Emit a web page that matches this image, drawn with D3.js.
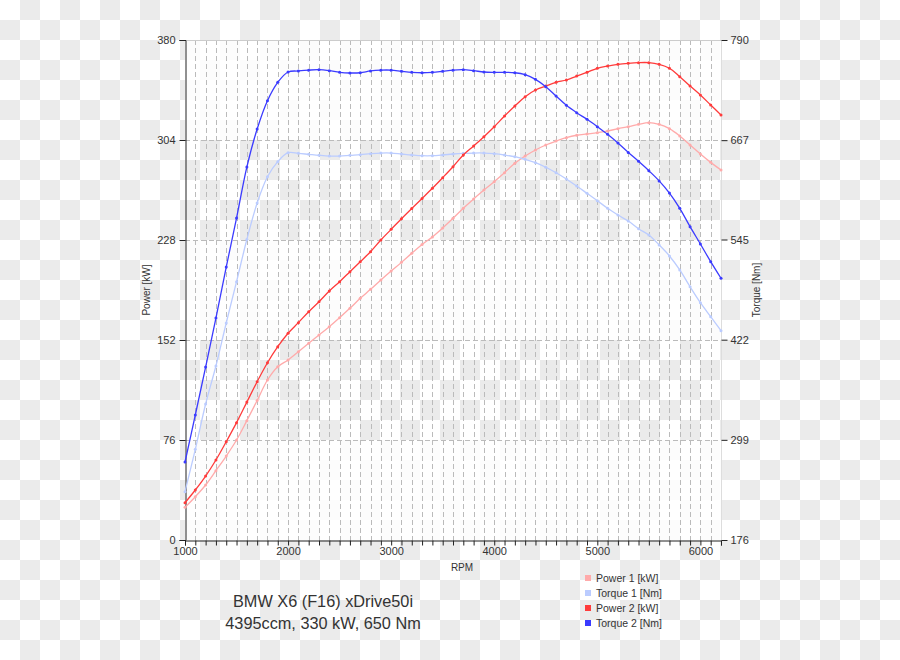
<!DOCTYPE html>
<html><head><meta charset="utf-8">
<script src="https://cdn.jsdelivr.net/npm/d3@7"></script>
<style>body{margin:0;background:#fff}svg{display:block}text{font-family:"Liberation Sans",Arial,sans-serif;fill:#333}</style>
</head><body><svg id="c" width="900" height="660"></svg>
<script>
const rpm = d3.range(1000, 6201, 100);
const power1 = [24.8,32.9,41.8,52.7,63.8,76,90.7,106,121.6,131.7,136.8,143.1,149.5,155.8,162.1,169,176.1,183.7,190.5,197.6,204.4,211,217.9,224.6,230.3,237.1,244.5,252.1,259.2,266,272.3,279.2,286.3,291.8,296.4,300.2,303.2,305.8,307.6,308.6,309.6,310.8,312.6,314.1,315.9,317.2,315.9,312.6,307,300.2,293.4,287,281.2];
const torque1 = [235.3,287.4,343,389.7,442.5,493.2,545,589.8,622,640.6,651.6,650.8,649.6,648.4,647.5,647.5,648.4,649.2,650.4,651.2,651.2,650,648.8,647.9,647.9,648.8,650,650.8,651.2,651.2,650.4,648.8,646.7,643.5,639.3,633.7,627,619.3,610.7,601.7,592.7,583.3,575.1,567.7,558.3,550.5,538.3,524.8,507.6,487,467.4,450.2,433];
const power2 = [28.3,38,48.6,60.8,74.7,89.2,104.8,120.3,134.7,146.9,157.1,165.2,173.5,181.1,189.2,196.3,203.9,211.5,219.1,228,236.1,244.2,252,259.6,267.3,275.4,283.7,292.6,299.4,306.5,314.1,322.2,329.8,336.9,342,345,347.8,349.6,352.6,355.4,358.5,360.2,361.5,362.3,362.8,362.8,361.5,358.5,352.1,345,338.2,330.6,323];
const torque2 = [271.8,329.5,388.4,448.6,511.2,571.4,634,680.7,715.5,738,750.7,752,753,753.5,752.3,750.3,749.5,749.8,752,753,753,751.6,750.3,749.8,750.3,751.6,753,753.5,752.3,750.7,750.3,750.3,749.8,747.4,741.7,732.7,721.2,709.8,700.7,692.6,683.6,674.2,663.5,652,641,629.5,617,602,583.3,560.8,539.5,517.8,497.4];
const powerTicks = [0,76,152,228,304,380];
const torqueTicks = [176,299,422,545,667,790];
const rpmTicks = [1000,2000,3000,4000,5000,6000];
const series = [
  {name:"Power 1 [kW]", vals:power1, axis:"p", color:"#ffaaaa"},
  {name:"Torque 1 [Nm]", vals:torque1, axis:"t", color:"#bbccff"},
  {name:"Power 2 [kW]", vals:power2, axis:"p", color:"#ff3b3b"},
  {name:"Torque 2 [Nm]", vals:torque2, axis:"t", color:"#3b3bff"}
];
const titleLines = ["BMW X6 (F16) xDrive50i","4395ccm, 330 kW, 650 Nm"];

const svg = d3.select("#c");
const L=185,R=721,T=40,B=540;
const pat = svg.append("defs").append("pattern").attr("id","chk").attr("width",40).attr("height",40).attr("patternUnits","userSpaceOnUse");
pat.append("rect").attr("width",40).attr("height",40).attr("fill","#fff");
pat.append("rect").attr("x",20).attr("y",0).attr("width",20).attr("height",20).attr("fill","#ebebeb");
pat.append("rect").attr("x",0).attr("y",20).attr("width",20).attr("height",20).attr("fill","#ebebeb");
svg.append("rect").attr("width",900).attr("height",660).attr("fill","url(#chk)");

const x = d3.scaleLinear().domain([1000,6200]).range([L,R]);
const yP = d3.scaleLinear().domain([0,380]).range([B,T]);
const yT = d3.scaleLinear().domain([176,790]).range([B,T]);

for(let i=0;i<powerTicks.length-1;i++){
  if(i%2===0) svg.append("rect").attr("x",L).attr("y",yP(powerTicks[i+1])).attr("width",R-L).attr("height",yP(powerTicks[i])-yP(powerTicks[i+1])).attr("fill","#fff").attr("opacity",0.85);
}
const g = svg.append("g").attr("stroke","#bbb").attr("stroke-dasharray","5,3").attr("stroke-width",1);
d3.range(1100,6200,100).forEach(r=>g.append("line").attr("x1",Math.round(x(r))+0.5).attr("x2",Math.round(x(r))+0.5).attr("y1",T).attr("y2",B));
powerTicks.slice(1,-1).forEach(p=>g.append("line").attr("x1",L).attr("x2",R).attr("y1",Math.round(yP(p))+0.5).attr("y2",Math.round(yP(p))+0.5));
svg.append("line").attr("x1",L).attr("x2",R).attr("y1",T+0.5).attr("y2",T+0.5).attr("stroke","#ccc");
svg.append("line").attr("x1",R+0.5).attr("x2",R+0.5).attr("y1",T).attr("y2",B).attr("stroke","#ddd");

const ax = d3.axisBottom(x).tickValues(d3.range(1000,6201,100)).tickSize(5).tickFormat(d=>rpmTicks.includes(d)?d:"");
const gx = svg.append("g").attr("transform",`translate(0,${B+0.5})`).call(ax);
const ayl = svg.append("g").attr("transform",`translate(${L+0.5},0)`).call(d3.axisLeft(yP).tickValues(powerTicks).tickSize(6).tickPadding(4));
const ayr = svg.append("g").attr("transform",`translate(${R+0.5},0)`).call(d3.axisRight(yT).tickValues(torqueTicks).tickSize(6).tickPadding(3));
[gx,ayl,ayr].forEach(a=>{a.select(".domain").attr("stroke","#222");a.selectAll(".tick line").attr("stroke","#222");a.selectAll("text").attr("font-size",11).attr("fill","#333").attr("font-family","Liberation Sans, Arial, sans-serif");});
ayr.select(".domain").attr("stroke","none");
gx.selectAll("text").attr("dy","0.9em").attr("y",5);

svg.append("text").attr("x",462).attr("y",571).attr("text-anchor","middle").attr("font-size",10).text("RPM");
svg.append("text").attr("transform","translate(150,290) rotate(-90)").attr("text-anchor","middle").attr("font-size",10).text("Power [kW]");
svg.append("text").attr("transform","translate(760,290) rotate(-90)").attr("text-anchor","middle").attr("font-size",10).text("Torque [Nm]");

series.forEach(s=>{
  const y = s.axis==="p"?yP:yT;
  const pts = rpm.map((r,i)=>[x(r),y(s.vals[i])]);
  svg.append("path").attr("d",d3.line().curve(d3.curveCatmullRom.alpha(0.5))(pts)).attr("fill","none").attr("stroke",s.color).attr("stroke-width",1.3);
  svg.append("g").selectAll("circle").data(pts).join("circle").attr("cx",d=>d[0]).attr("cy",d=>d[1]).attr("r",1.5).attr("fill",s.color);
});

const lg = svg.append("g");
series.forEach((s,i)=>{
  lg.append("rect").attr("x",585).attr("y",575+i*15).attr("width",6).attr("height",6).attr("fill",s.color);
  lg.append("text").attr("x",596).attr("y",582+i*15).attr("font-size",10.5).text(s.name);
});
titleLines.forEach((t,i)=>svg.append("text").attr("x",323).attr("y",607+i*22).attr("text-anchor","middle").attr("font-size",16.3).text(t));
</script></body></html>
